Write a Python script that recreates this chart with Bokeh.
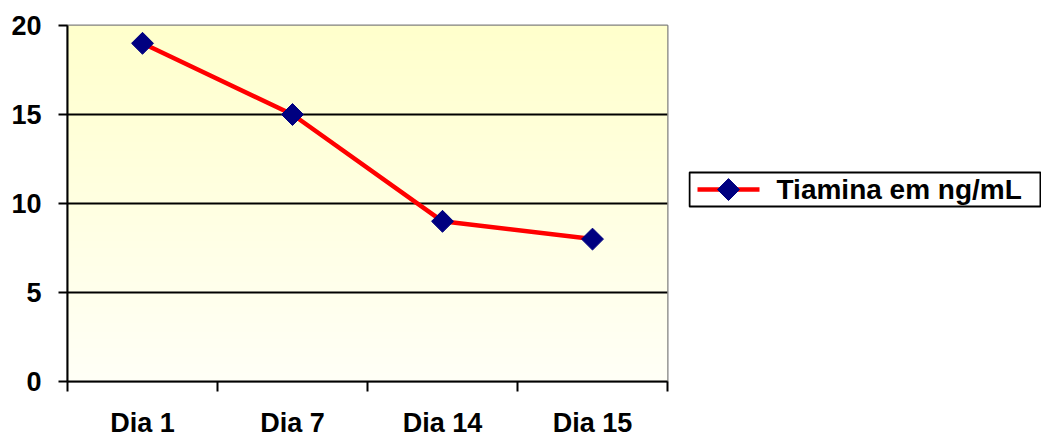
import numpy as np
from bokeh.plotting import figure
from bokeh.layouts import row
from bokeh.models import FixedTicker, Range1d
from bokeh.core.properties import value
from bokeh.embed import file_html
from bokeh.resources import INLINE

# ---- data ----
categories = ["Dia 1", "Dia 7", "Dia 14", "Dia 15"]
tiamina = [19, 15, 9, 8]
series_name = "Tiamina em  ng/mL"
y_ticks = [0, 5, 10, 15, 20]
grid_ticks = [5, 10, 15]

FONT = "Liberation Sans"
RED = "#FF0000"
NAVY = "#000080"
xpos = [i + 0.5 for i in range(len(categories))]

p = figure(frame_width=600, frame_height=356, output_backend="svg", toolbar_location=None,
           x_range=Range1d(0, len(categories)), y_range=Range1d(0, 20),
           min_border_left=67, min_border_right=21, min_border_top=25, min_border_bottom=57)
p.background_fill_color = "white"
p.border_fill_color = "white"
p.outline_line_color = "#808080"
p.outline_line_width = 2

# gradient background of plot area
n = 200
t = np.linspace(0, 1, n)[:, None]  # bottom(0) -> top(1)
top = np.array([255, 255, 204])
bot = np.array([255, 255, 247])
cols = (bot + (top - bot) * t).astype(np.uint32)
img = np.empty((n, 2), dtype=np.uint32)
view = img.view(dtype=np.uint8).reshape((n, 2, 4))
view[:, :, 0] = cols[:, 0:1]
view[:, :, 1] = cols[:, 1:2]
view[:, :, 2] = cols[:, 2:3]
view[:, :, 3] = 255
p.image_rgba(image=[img], x=0, y=0, dw=len(categories), dh=20, level="image")

# grid
p.xgrid.visible = False
p.ygrid.ticker = FixedTicker(ticks=grid_ticks)
p.ygrid.grid_line_color = "black"
p.ygrid.grid_line_width = 2

# series
p.line(xpos, tiamina, line_color=RED, line_width=4.5)
p.scatter(xpos, tiamina, marker="square", angle=np.pi / 4, size=15.5,
          fill_color=NAVY, line_color=NAVY)

# y axis
ya = p.yaxis[0]
ya.ticker = FixedTicker(ticks=y_ticks)
ya.axis_line_color = "black"
ya.axis_line_width = 2
ya.major_tick_line_color = "black"
ya.major_tick_line_width = 2
ya.major_tick_out = 9
ya.major_tick_in = 0
ya.minor_tick_line_color = None
ya.major_label_text_font = FONT
ya.major_label_text_font_style = "bold"
ya.major_label_text_font_size = "27px"
ya.major_label_text_color = "black"
ya.major_label_standoff = 17

# x axis
xa = p.xaxis[0]
xa.ticker = FixedTicker(ticks=xpos, minor_ticks=list(range(len(categories) + 1)))
xa.major_label_overrides = {x: c for x, c in zip(xpos, categories)}
xa.axis_line_color = "black"
xa.axis_line_width = 2
xa.major_tick_line_color = None
xa.major_tick_out = 10
xa.major_tick_in = 0
xa.minor_tick_line_color = "black"
xa.minor_tick_line_width = 2
xa.minor_tick_out = 10
xa.minor_tick_in = 0
xa.major_label_text_font = FONT
xa.major_label_text_font_style = "bold"
xa.major_label_text_font_size = "27px"
xa.major_label_text_color = "black"
xa.major_label_standoff = 16

# ---- legend panel (separate figure to keep the diamond marker) ----
LW, LH = 353, 438
lg = figure(width=LW, height=LH, output_backend="svg", toolbar_location=None,
            x_range=Range1d(0, LW), y_range=Range1d(LH, 0),
            x_axis_location=None, y_axis_location=None,
            min_border=0)
lg.outline_line_color = None
lg.xgrid.visible = False
lg.ygrid.visible = False
lg.background_fill_color = "white"
lg.border_fill_color = "white"
ly = 203
lg.quad(left=1, right=LW - 1, top=ly - 21, bottom=ly + 21,
        fill_color="white", line_color="black", line_width=2)
lg.line([9, 71], [ly, ly], line_color=RED, line_width=4.5)
lg.scatter([40], [ly], marker="square", angle=np.pi / 4, size=15.5,
           fill_color=NAVY, line_color=NAVY)
lg.text([88], [ly], text=[series_name], text_font=value(FONT), text_font_style="bold",
        text_font_size="28px", text_baseline="middle", text_align="left", text_color="black")

layout = row(p, lg, spacing=0)
open("out.html", "w").write(file_html(layout, INLINE))
